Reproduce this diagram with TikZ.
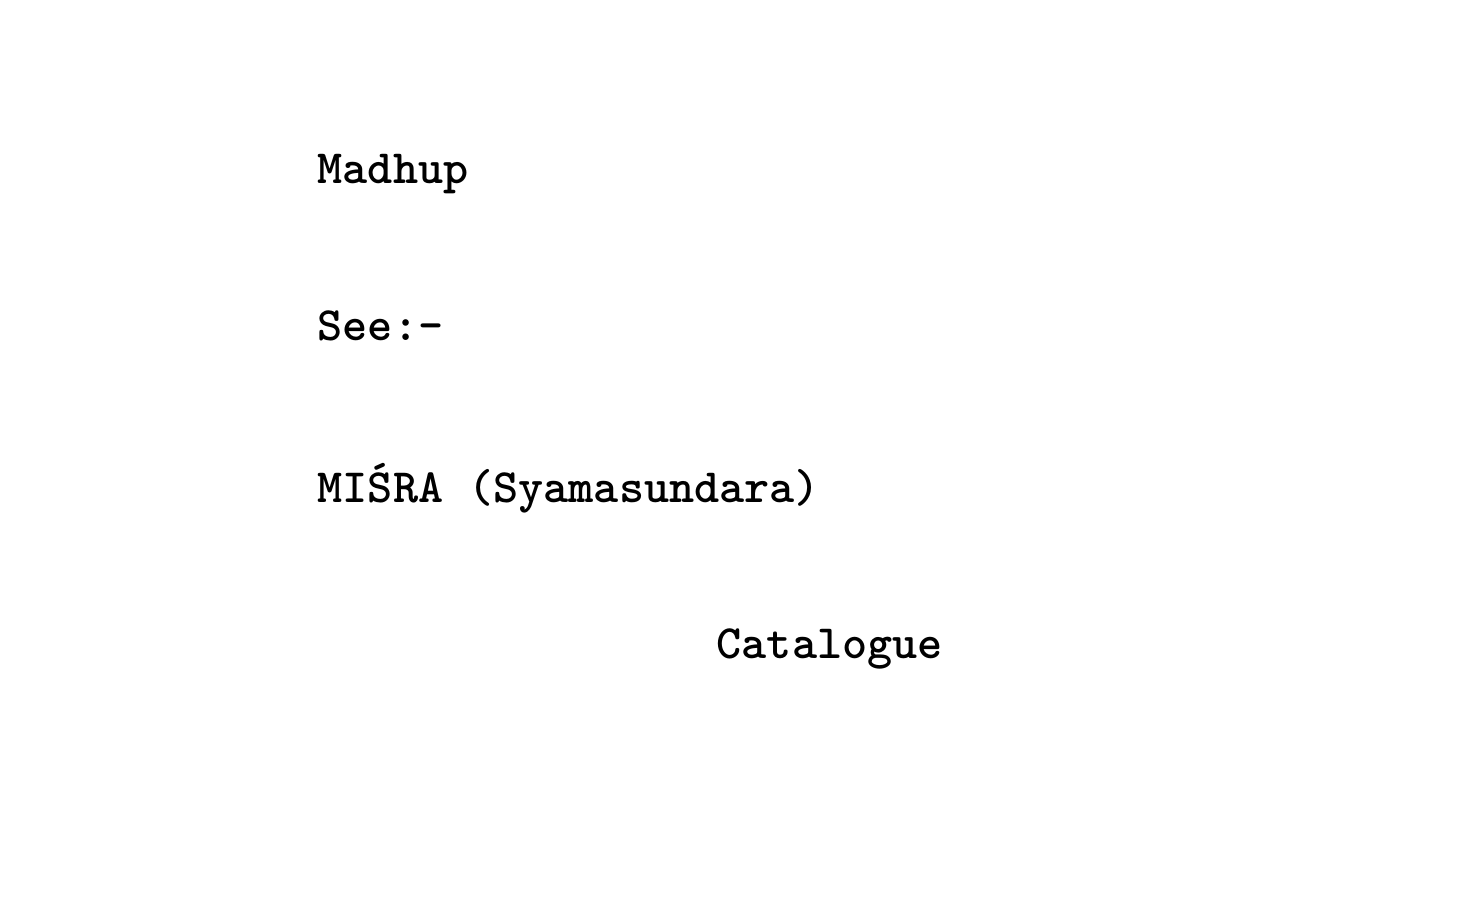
\documentclass[tikz,border=0pt]{standalone}
\usepackage{fontspec}
\begin{document}
\begin{tikzpicture}[x=0.01cm,y=-0.01cm,
  typed/.style={anchor=base west,inner sep=0pt,font=\fontsize{13.6pt}{16pt}\ttfamily\bfseries}]
\useasboundingbox[fill=white] (0,0) rectangle (1471,913);
\node[typed] (head) at (317,184) {Madhup};
\node[typed] (see) at (317,341) {See:-};
\node[typed] (name) at (317,502) {MIŚRA (Syamasundara)};
\node[typed] (cat) at (716,658) {Catalogue};
\end{tikzpicture}
\end{document}
